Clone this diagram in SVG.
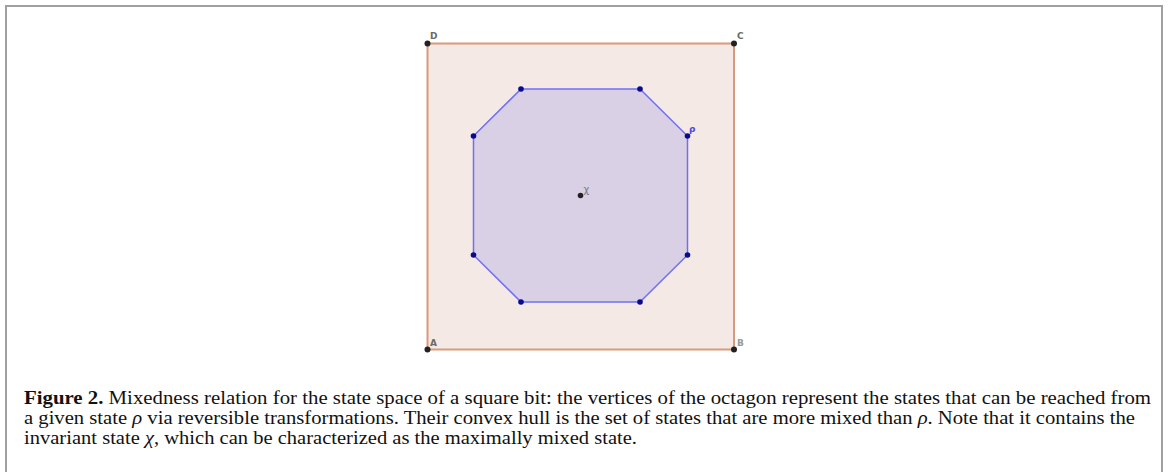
<svg xmlns="http://www.w3.org/2000/svg" width="1168" height="472" viewBox="0 0 1168 472">
<style>
.frame{fill:none;stroke:#a0a0a0;stroke-width:2}
.sq{fill:#f4e9e5;stroke:#d89a7c;stroke-width:2}
.oct{fill:#d9d0e6;stroke:#6f6ff5;stroke-width:1.5}
.pt{fill:#222}
.bpt{fill:#0a0a8c}
.lbl{font-family:"DejaVu Sans",sans-serif;font-size:9px;font-weight:bold;fill:#6a6a6a}
.blbl{font-family:"DejaVu Sans",sans-serif;font-size:9px;font-weight:bold;fill:#4a4ae0}
.cap{font-family:"Liberation Serif",serif;font-size:18px;fill:#111}
</style>
<rect x="0" y="0" width="1168" height="472" fill="#fff"/>
<path class="frame" d="M6,480 V6 H1162 V480"/>
<g id="square">
<rect class="sq" x="427.5" y="43.5" width="306.5" height="306"/>
</g>
<g id="octagon">
<polygon class="oct" points="521,89 640,89 687.5,136 687.5,255 640,302 521,302 473.5,255 473.5,136"/>
</g>
<g id="connectors"></g>
<g id="vertexA"><circle class="pt" cx="427.5" cy="349.5" r="3"/><text class="lbl" x="430" y="346">A</text></g>
<g id="vertexB"><circle class="pt" cx="734" cy="349.5" r="3"/><text class="lbl" x="737" y="346" style="fill:#999">B</text></g>
<g id="vertexC"><circle class="pt" cx="734" cy="43.5" r="3"/><text class="lbl" x="737" y="39">C</text></g>
<g id="vertexD"><circle class="pt" cx="427.5" cy="43.5" r="3"/><text class="lbl" x="430" y="39">D</text></g>
<g id="octPoints">
<circle class="bpt" cx="521" cy="89" r="2.8"/>
<circle class="bpt" cx="640" cy="89" r="2.8"/>
<circle class="bpt" cx="687.5" cy="136" r="2.8"/>
<circle class="bpt" cx="687.5" cy="255" r="2.8"/>
<circle class="bpt" cx="640" cy="302" r="2.8"/>
<circle class="bpt" cx="521" cy="302" r="2.8"/>
<circle class="bpt" cx="473.5" cy="255" r="2.8"/>
<circle class="bpt" cx="473.5" cy="136" r="2.8"/>
</g>
<g id="rho"><text class="blbl" x="689" y="132">ρ</text></g>
<g id="chi"><circle class="pt" cx="580.5" cy="195.5" r="2.8"/><text class="lbl" x="583.5" y="193" style="font-weight:normal;fill:#777;font-size:10px">χ</text></g>
<g id="caption">
<text class="cap" x="24" y="404" textLength="1127" lengthAdjust="spacingAndGlyphs"><tspan font-weight="bold">Figure 2.</tspan> Mixedness relation for the state space of a square bit: the vertices of the octagon represent the states that can be reached from</text>
<text class="cap" x="24" y="424" textLength="1111" lengthAdjust="spacingAndGlyphs">a given state <tspan font-style="italic">ρ</tspan> via reversible transformations. Their convex hull is the set of states that are more mixed than <tspan font-style="italic">ρ</tspan>. Note that it contains the</text>
<text class="cap" x="24" y="444" textLength="613" lengthAdjust="spacingAndGlyphs">invariant state <tspan font-style="italic">χ</tspan>, which can be characterized as the maximally mixed state.</text>
</g>
</svg>
